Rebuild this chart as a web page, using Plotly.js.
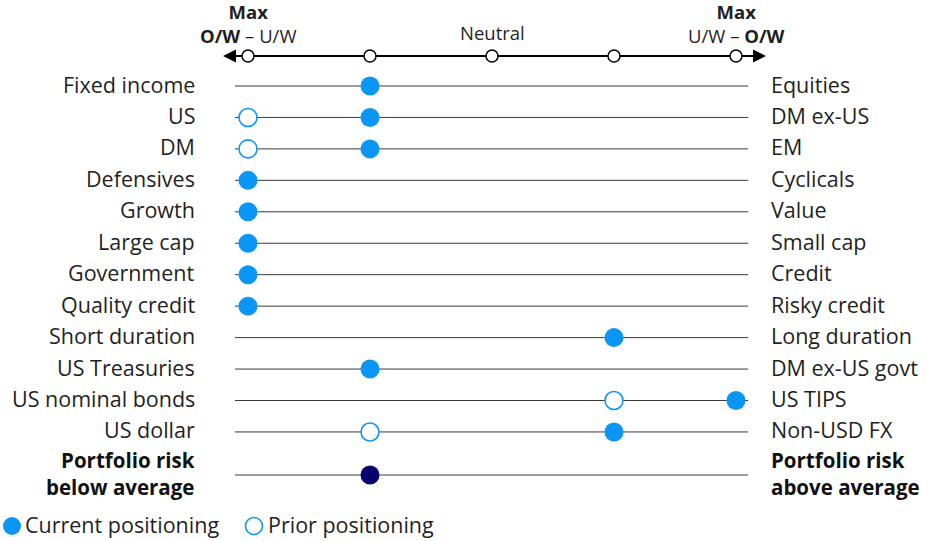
<!DOCTYPE html>
<html>
<head>
<meta charset="utf-8">
<script src="https://cdn.plot.ly/plotly-3.0.1.min.js"></script>
<style>html,body{margin:0;padding:0;background:#fff;}#chart{width:935px;height:541px;}</style>
</head>
<body>
<div id="chart"></div>
<script>
// ---- data ----
const leftLabels = ['Fixed income','US','DM','Defensives','Growth','Large cap','Government','Quality credit','Short duration','US Treasuries','US nominal bonds','US dollar','<b>Portfolio risk</b><br><b>below average</b>'];
const rightLabels = ['Equities','DM ex-US','EM','Cyclicals','Value','Small cap','Credit','Risky credit','Long duration','DM ex-US govt','US TIPS','Non-USD FX','<b>Portfolio risk</b><br><b>above average</b>'];
const currentPos = [-1,-1,-1,-2,-2,-2,-2,-2,1,-1,2,1,-1];
const priorPos = [null,-2,-2,null,null,null,null,null,null,null,1,-1,null];
const scalePoints = [-2,-1,0,1,2];
const scaleLabels = ['<b>Max</b><br><b>O/W</b> – U/W','','Neutral','','<b>Max</b><br>U/W – <b>O/W</b>'];
const legendNames = ['Current positioning','Prior positioning'];

// ---- layout helpers ----
const BLUE = '#0a96f7', NAVY = '#08006e';
const PXU = 122, X0 = 492;             // pixels per unit, pixel of 0
const ROWH = 31.45, Y0 = 86;           // row spacing, pixel of first row
const px2x = p => (p - X0) / PXU;
const px2y = p => (p - Y0) / ROWH;
const rowY = leftLabels.map((_, i) => i < leftLabels.length - 1 ? i : px2y(475));
const axisY = px2y(56);

const shapes = [];
const annotations = [];
const FONT = '"Open Sans", Roboto, sans-serif';
const LSIZE = 21.5, BSIZE = 20.5, HSIZE = 18.5;
const TXT = '#1f1f1f';
const YS = 2;

rowY.forEach(y => shapes.push({type:'line', xref:'x', yref:'y', x0:px2x(235), x1:px2x(748), y0:y, y1:y, line:{color:'#3a3a3a', width:1}, layer:'below'}));
// top axis line and arrows
shapes.push({type:'line', xref:'x', yref:'y', x0:px2x(232), x1:px2x(756), y0:axisY, y1:axisY, line:{color:'#000', width:2}, layer:'below'});
const ah = 6.5 / ROWH;
shapes.push({type:'path', xref:'x', yref:'y', path:`M ${px2x(223)} ${axisY} L ${px2x(236)} ${axisY-ah} L ${px2x(236)} ${axisY+ah} Z`, fillcolor:'#000', line:{width:0}});
shapes.push({type:'path', xref:'x', yref:'y', path:`M ${px2x(766)} ${axisY} L ${px2x(753)} ${axisY-ah} L ${px2x(753)} ${axisY+ah} Z`, fillcolor:'#000', line:{width:0}});

function addLabel(t, i, xpx, anchor) {
  const multi = t.indexOf('<br>') >= 0;
  annotations.push({x:px2x(xpx), y:rowY[i], xref:'x', yref:'y', yshift:YS, text:t, showarrow:false, xanchor:anchor, yanchor:'middle', align:anchor,
    font:{family:FONT, size:multi ? BSIZE : LSIZE, color:multi ? '#111' : TXT}});
}
leftLabels.forEach((t, i) => addLabel(t, i, 197, 'right'));
rightLabels.forEach((t, i) => addLabel(t, i, 769, 'left'));
scalePoints.forEach((s, i) => {
  if (!scaleLabels[i]) return;
  const multi = scaleLabels[i].indexOf('<br>') >= 0;
  annotations.push({x:s, y:px2y(multi ? 25 : 34), xref:'x', yref:'y', yshift:YS, text:scaleLabels[i], showarrow:false, xanchor:'center', yanchor:'middle', align:'center', font:{family:FONT, size:HSIZE, color:TXT}});
});

// legend (custom)
shapes.push({type:'circle', xref:'paper', yref:'paper', xsizemode:'pixel', ysizemode:'pixel', xanchor:12/935, yanchor:1-526/541, x0:-9, x1:9, y0:-9, y1:9, fillcolor:BLUE, line:{width:0}});
shapes.push({type:'circle', xref:'paper', yref:'paper', xsizemode:'pixel', ysizemode:'pixel', xanchor:254/935, yanchor:1-526/541, x0:-8.5, x1:8.5, y0:-8.5, y1:8.5, fillcolor:'#fff', line:{color:BLUE, width:1.6}});
annotations.push({x:23/935, y:1-526/541, xref:'paper', yref:'paper', yshift:YS, text:legendNames[0], showarrow:false, xanchor:'left', yanchor:'middle', font:{family:FONT, size:LSIZE, color:TXT}});
annotations.push({x:266/935, y:1-526/541, xref:'paper', yref:'paper', yshift:YS, text:legendNames[1], showarrow:false, xanchor:'left', yanchor:'middle', font:{family:FONT, size:LSIZE, color:TXT}});

const traces = [
  {x:scalePoints, y:scalePoints.map(() => axisY), mode:'markers', type:'scatter', hoverinfo:'skip', showlegend:false,
   marker:{size:12, color:'#fff', line:{color:'#000', width:1.5}}},
  {x:priorPos, y:rowY, mode:'markers', type:'scatter', name:legendNames[1], showlegend:false,
   marker:{size:18, color:'#fff', line:{color:BLUE, width:1.6}}},
  {x:currentPos, y:rowY, mode:'markers', type:'scatter', name:legendNames[0], showlegend:false,
   marker:{size:19, color:currentPos.map((_, i) => i === currentPos.length - 1 ? NAVY : BLUE), line:{width:0}}}
];

const layout = {
  width:935, height:541,
  margin:{l:0, r:0, t:0, b:0},
  paper_bgcolor:'#fff', plot_bgcolor:'#fff',
  xaxis:{range:[px2x(0), px2x(935)], visible:false, fixedrange:true},
  yaxis:{range:[px2y(541), px2y(0)], visible:false, fixedrange:true},
  shapes:shapes, annotations:annotations, showlegend:false
};
Plotly.newPlot('chart', traces, layout, {displayModeBar:false, staticPlot:true});
</script>
</body>
</html>
